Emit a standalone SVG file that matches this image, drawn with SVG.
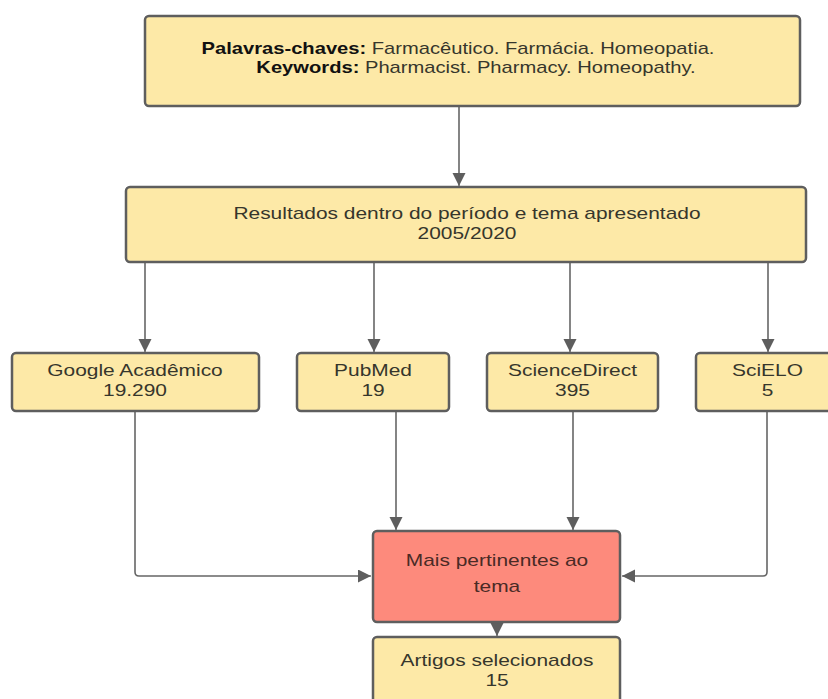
<svg xmlns="http://www.w3.org/2000/svg" width="828" height="699" viewBox="0 0 828 699">
<defs>
<style>
.box{fill:#fde9a7;stroke:#5e5e5e;stroke-width:2.5}
.red{fill:#fd8a7c;stroke:#5e5e5e;stroke-width:2.5}
.t{font-family:"Liberation Sans",Arial,sans-serif;font-size:17px;fill:#36362c;text-anchor:middle}
.k{font-size:16px}
.tr{fill:#4a2a26}
.b{font-weight:bold;fill:#111}
.c{fill:none;stroke:#666;stroke-width:1.6}
</style>
<marker id="ah" markerUnits="userSpaceOnUse" markerWidth="12" markerHeight="15" refX="13" refY="6.5" orient="auto">
<path d="M0,0 L13,6.5 L0,13 Z" fill="#5e5e5e"/>
</marker>
</defs>
<rect width="828" height="699" fill="#fff"/>
<g id="connectors">
<path class="c" d="M459,107 V186" marker-end="url(#ah)"/>
<path class="c" d="M145,263 V352" marker-end="url(#ah)"/>
<path class="c" d="M374,263 V352" marker-end="url(#ah)"/>
<path class="c" d="M570,263 V352" marker-end="url(#ah)"/>
<path class="c" d="M768,263 V352" marker-end="url(#ah)"/>
<path class="c" d="M135,411 V572 Q135,576 139,576 H371" marker-end="url(#ah)"/>
<path class="c" d="M396,411 V530" marker-end="url(#ah)"/>
<path class="c" d="M573,411 V530" marker-end="url(#ah)"/>
<path class="c" d="M767,411 V572 Q767,576 763,576 H622" marker-end="url(#ah)"/>
<path class="c" d="M497,623 V636" marker-end="url(#ah)"/>
</g>
<g id="keywords">
<rect class="box" x="145" y="16" width="655" height="90" rx="4"/>
<text class="t k" transform="translate(458,53.5) scale(1.26,1)"><tspan class="b">Palavras-chaves:</tspan> Farmacêutico. Farmácia. Homeopatia.</text>
<text class="t k" transform="translate(476,73) scale(1.26,1)"><tspan class="b">Keywords:</tspan> Pharmacist. Pharmacy. Homeopathy.</text>
</g>
<g id="resultados">
<rect class="box" x="126" y="187" width="680" height="75" rx="4"/>
<text class="t" transform="translate(467,219) scale(1.23,1)">Resultados dentro do período e tema apresentado</text>
<text class="t" transform="translate(467,239) scale(1.23,1)">2005/2020</text>
</g>
<g id="google">
<rect class="box" x="12" y="353" width="247" height="58" rx="4"/>
<text class="t" transform="translate(135,376) scale(1.23,1)">Google Acadêmico</text>
<text class="t" transform="translate(135,396) scale(1.23,1)">19.290</text>
</g>
<g id="pubmed">
<rect class="box" x="297" y="353" width="152" height="58" rx="4"/>
<text class="t" transform="translate(373,376) scale(1.23,1)">PubMed</text>
<text class="t" transform="translate(373,396) scale(1.23,1)">19</text>
</g>
<g id="sciencedirect">
<rect class="box" x="487" y="353" width="171" height="58" rx="4"/>
<text class="t" transform="translate(572.5,376) scale(1.23,1)">ScienceDirect</text>
<text class="t" transform="translate(572.5,396) scale(1.23,1)">395</text>
</g>
<g id="scielo">
<rect class="box" x="696" y="353" width="143" height="58" rx="4"/>
<text class="t" transform="translate(767.5,376) scale(1.23,1)">SciELO</text>
<text class="t" transform="translate(767.5,396) scale(1.23,1)">5</text>
</g>
<g id="pertinentes">
<rect class="red" x="373" y="531" width="247" height="91" rx="4"/>
<text class="t tr" transform="translate(497,566) scale(1.23,1)">Mais pertinentes ao</text>
<text class="t tr" transform="translate(497,592) scale(1.23,1)">tema</text>
</g>
<g id="artigos">
<rect class="box" x="373" y="637" width="247" height="75" rx="4"/>
<text class="t" transform="translate(497,666) scale(1.23,1)">Artigos selecionados</text>
<text class="t" transform="translate(497,686) scale(1.23,1)">15</text>
</g>
</svg>
